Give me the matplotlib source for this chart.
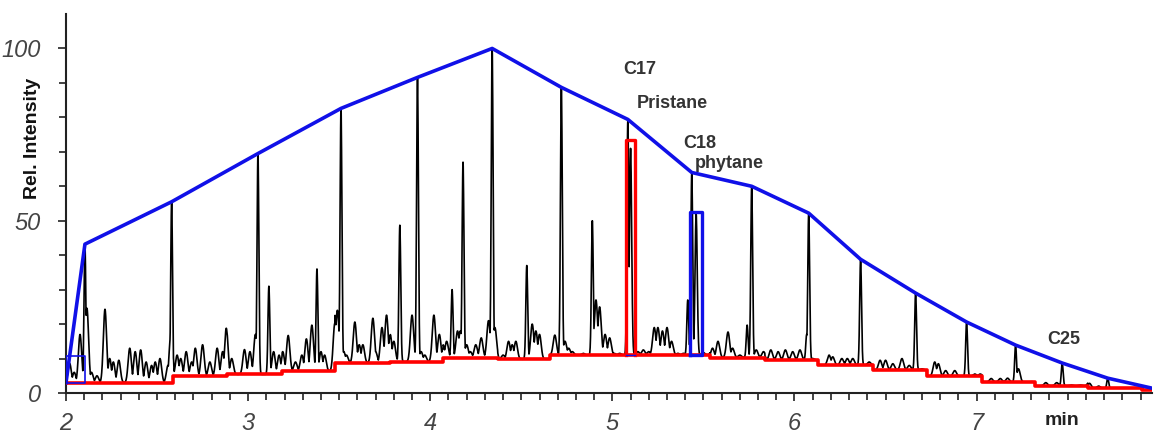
import numpy as np
import matplotlib.pyplot as plt

plt.rcParams['font.family'] = ['Liberation Sans', 'DejaVu Sans']

# chromatogram peaks (retention time in min, rel. intensity)
alkane_rt = [2.104, 2.58, 3.054, 3.51, 3.93, 4.34, 4.72, 5.085, 5.436, 5.765,
             6.078, 6.363, 6.665, 6.945, 7.214, 7.47, 7.72]
alkane_int = [43.2, 55.5, 69.5, 82.6, 91.6, 100, 88.7, 79.4, 64, 60,
              52.2, 38.8, 29, 20.6, 13.9, 8.7, 4.3]

isoprenoid_rt = [5.10, 5.46]          # pristane, phytane
isoprenoid_int = [71, 52]

minor_rt = [3.114, 3.378, 3.833, 4.12, 4.18, 4.53, 4.89, 5.414, 5.74, 6.067]
minor_int = [31, 36, 48.7, 30, 67, 37, 50, 27, 19.7, 17]

grass_rt = [2.02, 2.045, 2.077, 2.115, 2.14, 2.17, 2.214, 2.24, 2.26, 2.29,
            2.35, 2.38, 2.41, 2.44, 2.47, 2.49, 2.516, 2.56, 2.575, 2.61,
            2.63, 2.66, 2.69, 2.71, 2.75, 2.79, 2.83, 2.86, 2.88, 2.91,
            2.98, 3.01, 3.04, 3.14, 3.17, 3.19, 3.22, 3.26, 3.295, 3.32,
            3.35, 3.40, 3.42, 3.476, 3.49, 3.525, 3.54, 3.586, 3.61, 3.63,
            3.685, 3.70, 3.735, 3.76, 3.78, 3.80, 3.90, 3.95, 3.97, 4.02,
            4.05, 4.07, 4.09, 4.15, 4.165, 4.20, 4.22, 4.25, 4.28, 4.32,
            4.355, 4.40, 4.43, 4.45, 4.47, 4.56, 4.58, 4.60, 4.684, 4.74,
            4.76, 4.78, 4.81, 4.84, 4.91, 4.93, 4.96, 4.985, 5.01, 5.04,
            5.14, 5.17, 5.20, 5.23, 5.25, 5.275, 5.30, 5.325, 5.36, 5.39,
            5.50, 5.55, 5.58, 5.635, 5.66, 5.70, 5.79, 5.83, 5.87, 5.91,
            5.95, 5.99, 6.03, 6.10, 6.19, 6.21, 6.26, 6.29, 6.32, 6.41,
            6.47, 6.50, 6.54, 6.59, 6.63, 6.70, 6.77, 6.79, 6.83, 6.88,
            6.99, 7.02, 7.08, 7.13, 7.17, 7.23, 7.30, 7.38, 7.44, 7.52,
            7.57, 7.62, 7.67, 7.80, 7.88]
grass_int = [8.6, 6, 17, 24.6, 6, 5, 24.3, 10, 9, 9.5,
             13, 12, 12.5, 9, 8, 9, 10, 8, 16.8, 11,
             10, 12, 9, 13, 14, 9, 13, 12, 18.8, 10,
             12.6, 12, 17, 12, 11, 12, 16.7, 9, 11, 15.7,
             19.7, 12, 11, 22.6, 24, 12, 11, 20.6, 14, 14,
             21.7, 12, 19, 22.6, 17, 15, 22.6, 12, 11, 22.6,
             17, 14, 15, 18, 18, 14, 12, 14, 16, 21,
             19, 11, 15, 14, 15, 20, 18, 17, 16.8, 15,
             13, 12, 11, 11.5, 27, 25, 17, 16, 11.5, 11.5,
             12, 12.5, 12, 19, 19, 18, 19, 15, 11.5, 11.5,
             11.7, 13, 15, 17.7, 13, 11, 12.5, 12, 12.5, 12,
             12.5, 12, 12.5, 10, 11, 10.5, 10, 10, 10, 9,
             9.5, 9.5, 8.5, 10, 8, 7, 9, 8.5, 6.5, 6.5,
             5.5, 5.5, 4.2, 4.2, 4.3, 7, 3.3, 3, 3, 2.3,
             2.3, 2.8, 2, 1.2, 1.2]

# baseline (red step line)
base_edges = [2.0, 2.59, 2.884, 3.186, 3.476, 3.78, 4.07, 4.37, 4.656,
              5.535, 5.837, 6.13, 6.43, 6.725, 7.03, 7.32, 7.61, 7.91, 7.963]
base_vals = [3.0, 4.8, 5.4, 6.3, 8.7, 9.1, 10.3, 9.8, 11.0,
             10.3, 9.6, 8.1, 6.7, 4.9, 3.2, 2.1, 1.4, 0.9]

# envelope (blue line)
env_rt = [2.0] + alkane_rt + [7.963]
env_int = [3.0] + alkane_int + [1.4]

labels = ['C17', 'Pristane', 'C18', 'phytane', 'C25']
label_x = [5.15, 5.33, 5.48, 5.64, 7.48]
label_y = [94, 84, 72.5, 66.7, 15.6]

t = np.arange(2.0, 7.9631, 0.001)
idx = np.clip(np.searchsorted(base_edges, t, side='right') - 1, 0, len(base_vals) - 1)
floor = np.array(base_vals)[idx]


def floor_at(x):
    i = min(max(np.searchsorted(base_edges, x, side='right') - 1, 0), len(base_vals) - 1)
    return base_vals[i]


trace = floor.copy()
groups = [(alkane_rt, alkane_int, 0.005),
          (isoprenoid_rt, isoprenoid_int, 0.006),
          (minor_rt, minor_int, 0.005),
          (grass_rt, grass_int, 0.009)]
for rts, ints, s in groups:
    for p, h in zip(rts, ints):
        amp = max(h - floor_at(p), 0)
        trace = np.maximum(trace, floor + amp * np.exp(-0.5 * ((t - p) / s) ** 2))

fig = plt.figure(figsize=(11.54, 4.36), dpi=100)
ax = fig.add_axes([66 / 1154, 1 - 393 / 436, 1086 / 1154, 379 / 436])

ax.plot(t, trace, color='black', lw=1.2, zorder=2)
ax.step(base_edges, base_vals + [base_vals[-1]], where='post', color='#ff0000', lw=2.6, zorder=3)
ax.plot(env_rt, env_int, color='#1010e8', lw=2.6, zorder=4)

# pristane / phytane integration boxes
b = floor_at(5.10)
ax.plot([5.074, 5.074, 5.125, 5.125], [b, 73.3, 73.3, b], color='#ff0000', lw=2.4, zorder=3)
ax.plot([5.074, 5.125], [b, b], color='#1010e8', lw=1.0, zorder=3)
ax.plot([5.425, 5.425, 5.49, 5.49, 5.425], [b, 52.5, 52.5, b, b], color='#1010e8', lw=2.4, zorder=4)
ax.plot([2.0, 2.0, 2.104, 2.104, 2.0], [3.0, 10.8, 10.8, 3.0, 3.0], color='#1010e8', lw=1.2, zorder=4)

for s, x, y in zip(labels, label_x, label_y):
    ax.text(x, y, s, ha='center', va='center', fontsize=13, fontweight='bold', color='#333333')

ax.set_xlim(2.0, 7.963)
ax.set_ylim(0, 110)
ax.set_xticks([2, 3, 4, 5, 6, 7])
ax.set_xticks(np.arange(2.0, 7.96, 0.1), minor=True)
ax.set_yticks([0, 50, 100])
ax.set_yticks(np.arange(0, 101, 10), minor=True)
for lab in ax.get_xticklabels() + ax.get_yticklabels():
    lab.set_fontstyle('italic')
ax.tick_params(which='both', direction='out', color='#222222', width=1.2,
               labelsize=17, labelcolor='#444444')
ax.tick_params(axis='x', pad=8)
ax.tick_params(axis='y', pad=12)
ax.tick_params(which='major', length=6)
ax.tick_params(which='minor', length=5)

for side in ['top', 'right']:
    ax.spines[side].set_visible(False)
for side in ['left', 'bottom']:
    ax.spines[side].set_color('#222222')
    ax.spines[side].set_linewidth(1.5)

ax.text(-0.031, 0.673, 'Rel. Intensity', transform=ax.transAxes, rotation=90,
        ha='center', va='center', fontsize=14, fontweight='bold', color='#111111')
ax.text(7.47, -8, 'min', ha='center', va='center', fontsize=14, fontweight='bold',
        color='#222222', clip_on=False)

fig.savefig('out.png', dpi=100)
